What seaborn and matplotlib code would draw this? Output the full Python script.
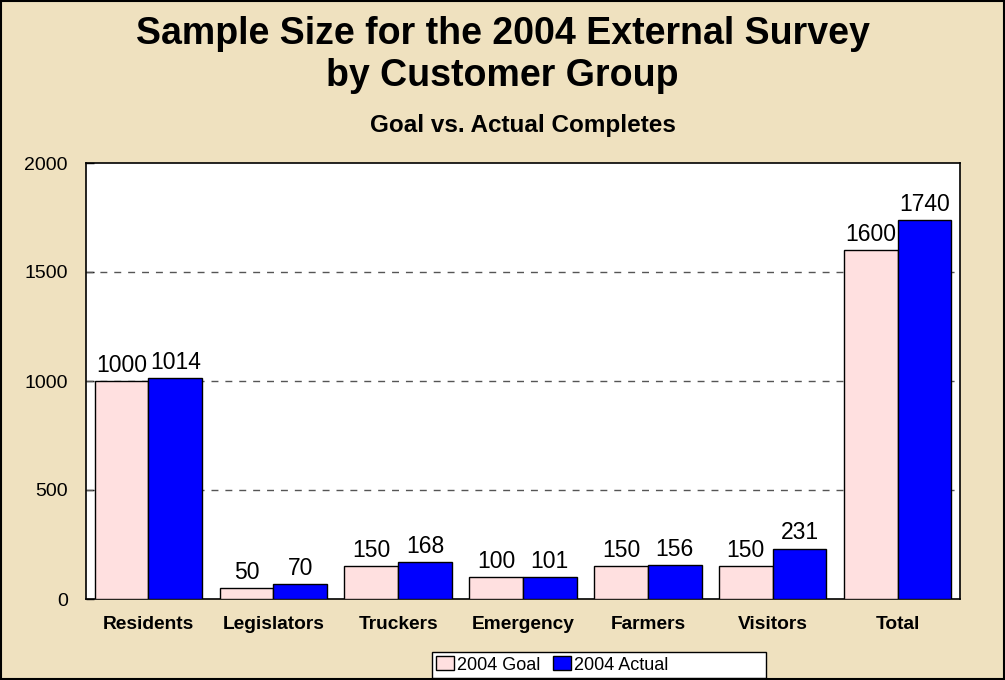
import matplotlib
matplotlib.use("Agg")
import matplotlib.pyplot as plt
import seaborn as sns
import pandas as pd
from matplotlib.patches import Rectangle, Patch

categories = ["Residents", "Legislators", "Truckers", "Emergency", "Farmers", "Visitors", "Total"]
goal = [1000, 50, 150, 100, 150, 150, 1600]
actual = [1014, 70, 168, 101, 156, 231, 1740]
series_names = ["2004 Goal", "2004 Actual"]
yticks = [0, 500, 1000, 1500, 2000]

title = "Sample Size for the 2004 External Survey\nby Customer Group"
subtitle = "Goal vs. Actual Completes"

bg = "#EFE1BF"
goal_color = "#FFE0E0"
actual_color = "#0000FF"

sns.set_theme(style="white")
plt.rcParams["font.family"] = ["Liberation Sans", "DejaVu Sans"]
plt.rcParams["text.color"] = "black"
plt.rcParams["xtick.color"] = "black"
plt.rcParams["ytick.color"] = "black"
plt.rcParams["axes.labelcolor"] = "black"

df = pd.DataFrame({
    "Group": categories * 2,
    "Series": [series_names[0]] * len(categories) + [series_names[1]] * len(categories),
    "Value": goal + actual,
})

W, H = 1005, 680
fig = plt.figure(figsize=(W / 100, H / 100), dpi=100, facecolor=bg)
ax = fig.add_axes([86 / W, 1 - 599 / H, (960 - 86) / W, (599 - 163) / H])
ax.set_facecolor("white")

sns.barplot(data=df, x="Group", y="Value", hue="Series", order=categories,
            hue_order=series_names, palette=[goal_color, actual_color],
            width=0.86, edgecolor="black", linewidth=1, saturation=1,
            legend=False, ax=ax, zorder=3)

for i, cont in enumerate(ax.containers):
    ax.bar_label(cont, labels=[f"{int(v)}" for v in (goal if i == 0 else actual)],
                 padding=3, fontsize=16.5, color="black")

ax.set_ylim(0, 2000)
ax.set_xlim(-0.5, len(categories) - 0.5)
ax.set_yticks(yticks)
ax.set_yticklabels([str(t) for t in yticks], fontsize=14)
ax.set_xticklabels(categories, fontsize=13.8, fontweight="bold")
ax.set_xlabel("")
ax.set_ylabel("")
ax.tick_params(axis="y", direction="in", length=6, width=1, color="black", pad=13, left=True)
ax.tick_params(axis="x", length=0, pad=12)
for s in ax.spines.values():
    s.set_visible(True)
    s.set_color("black")
    s.set_linewidth(1.2)
for y in [500, 1000, 1500]:
    ax.axhline(y, color="#555555", linestyle=(0, (5, 5)), linewidth=1, zorder=1)

ax.set_title(subtitle, fontsize=17.5, fontweight="bold", pad=22)
fig.text(0.5, 1 - 16 / H, title, ha="center", va="top", fontsize=27,
         fontweight="bold", linespacing=1.22)

handles = [Patch(facecolor=goal_color, edgecolor="black", label=series_names[0]),
           Patch(facecolor=actual_color, edgecolor="black", label=series_names[1])]
leg = fig.legend(handles=handles, loc="center left", bbox_to_anchor=(436 / W, 1 - 665 / H),
                 ncol=2, fontsize=13, frameon=False,
                 handlelength=1.0, handleheight=0.8,
                 handletextpad=0.15, columnspacing=0.7, borderpad=0.0,
                 borderaxespad=0)
# legend box (wider than its entries, as in the reference)
fig.patches.append(Rectangle((432 / W, 1 - 678 / H), (766 - 432) / W, (678 - 652) / H,
                             transform=fig.transFigure, facecolor="white",
                             edgecolor="black", linewidth=1, zorder=0))
# outer figure border
fig.patches.append(Rectangle((0.001, 0.001), 0.998, 0.998, transform=fig.transFigure,
                             fill=False, edgecolor="black", linewidth=1.5))

fig.savefig("out.png", dpi=100, facecolor=bg)
